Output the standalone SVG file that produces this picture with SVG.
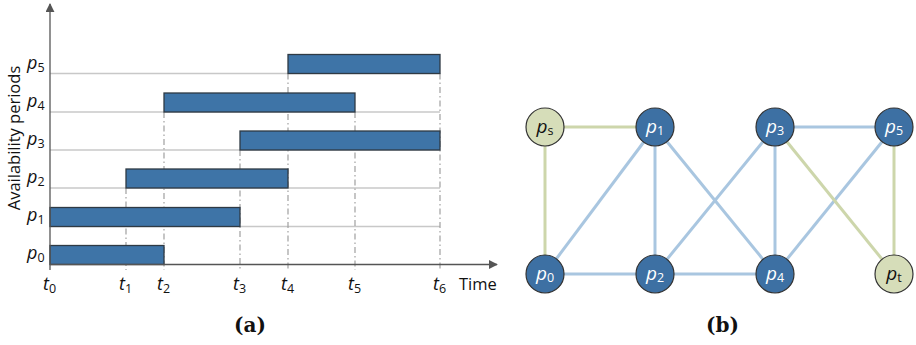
<svg xmlns="http://www.w3.org/2000/svg" width="916" height="345" viewBox="0 0 916 345">
  <style>
    .axis { stroke: #555; stroke-width: 1.3; fill: none; }
    .row { stroke: #c8c8c8; stroke-width: 1.3; }
    .tick { stroke: #a0a0a0; stroke-width: 1.2; stroke-dasharray: 6 3 1.5 3; }
    .bar { fill: #3e74a7; stroke: #2f3a44; stroke-width: 1.3; }
    .lbl { font-family: "Open Sans", "Noto Sans", sans-serif; font-style: italic; font-size: 18px; fill: #111; }
    .sub { font-style: normal; font-size: 12.5px; }
    .plain { font-family: "Open Sans", "Noto Sans", sans-serif; font-size: 16.5px; fill: #111; }
    .cap { font-family: "DejaVu Serif", "Liberation Serif", serif; font-weight: bold; font-size: 20px; fill: #111; }
    .eb { stroke: #a9c6e0; stroke-width: 3; }
    .eg { stroke: #cdd6ab; stroke-width: 3; }
    .nb { fill: #3d70a3; stroke: #333; stroke-width: 1.2; }
    .ng { fill: #d6ddb9; stroke: #333; stroke-width: 1.2; }
    .tw { font-family: "Open Sans", "Noto Sans", sans-serif; font-style: italic; font-size: 19px; fill: #fff; text-anchor: middle; }
    .tk { font-family: "Open Sans", "Noto Sans", sans-serif; font-style: italic; font-size: 19px; fill: #111; text-anchor: middle; }
  </style>
  <defs>
    <marker id="arrow" viewBox="0 0 10 10" refX="9" refY="5" markerWidth="9" markerHeight="9" markerUnits="userSpaceOnUse" orient="auto">
      <path d="M0,0 L10,5 L0,10 z" fill="#555"/>
    </marker>
  </defs>

  <!-- Timeline chart -->
  <g id="chart">
    <g id="rows">
      <line class="row" x1="50" y1="73.5" x2="440" y2="73.5"/>
      <line class="row" x1="50" y1="112" x2="440" y2="112"/>
      <line class="row" x1="50" y1="150" x2="440" y2="150"/>
      <line class="row" x1="50" y1="188" x2="440" y2="188"/>
      <line class="row" x1="50" y1="226.5" x2="440" y2="226.5"/>
    </g>
    <g id="ticks">
      <line class="tick" x1="126" y1="188" x2="126" y2="270"/>
      <line class="tick" x1="164" y1="112" x2="164" y2="270"/>
      <line class="tick" x1="240" y1="150" x2="240" y2="270"/>
      <line class="tick" x1="288" y1="73.5" x2="288" y2="270"/>
      <line class="tick" x1="355" y1="112" x2="355" y2="270"/>
      <line class="tick" x1="440" y1="73.5" x2="440" y2="270"/>
    </g>
    <g id="bars">
      <rect class="bar" x="288" y="54.5" width="152" height="19"/>
      <rect class="bar" x="164" y="93" width="191" height="19"/>
      <rect class="bar" x="240" y="131" width="200" height="19"/>
      <rect class="bar" x="126" y="169" width="162" height="19"/>
      <rect class="bar" x="50" y="207.5" width="190" height="19"/>
      <rect class="bar" x="50" y="245.5" width="114" height="19"/>
    </g>
    <g id="axes">
      <line class="axis" x1="50" y1="270" x2="50" y2="4" marker-end="url(#arrow)"/>
      <line class="axis" x1="50" y1="264.5" x2="497" y2="264.5" marker-end="url(#arrow)"/>
    </g>
    <g id="row-labels">
      <text class="lbl" x="27" y="69">p<tspan class="sub" dy="3">5</tspan></text>
      <text class="lbl" x="27" y="107">p<tspan class="sub" dy="3">4</tspan></text>
      <text class="lbl" x="27" y="145">p<tspan class="sub" dy="3">3</tspan></text>
      <text class="lbl" x="27" y="183">p<tspan class="sub" dy="3">2</tspan></text>
      <text class="lbl" x="27" y="221">p<tspan class="sub" dy="3">1</tspan></text>
      <text class="lbl" x="27" y="259">p<tspan class="sub" dy="3">0</tspan></text>
    </g>
    <g id="time-labels">
      <text class="lbl" x="43" y="290">t<tspan class="sub" dy="3">0</tspan></text>
      <text class="lbl" x="119" y="290">t<tspan class="sub" dy="3">1</tspan></text>
      <text class="lbl" x="157" y="290">t<tspan class="sub" dy="3">2</tspan></text>
      <text class="lbl" x="233" y="290">t<tspan class="sub" dy="3">3</tspan></text>
      <text class="lbl" x="281" y="290">t<tspan class="sub" dy="3">4</tspan></text>
      <text class="lbl" x="348" y="290">t<tspan class="sub" dy="3">5</tspan></text>
      <text class="lbl" x="433" y="290">t<tspan class="sub" dy="3">6</tspan></text>
      <text class="plain" x="459" y="290">Time</text>
    </g>
    <text class="plain" font-size="17px" transform="translate(20 138) rotate(-90)" text-anchor="middle">Availability periods</text>
    <text class="cap" x="234" y="332">(a)</text>
  </g>

  <!-- Graph -->
  <g id="edges">
    <line class="eg" x1="545" y1="127" x2="655" y2="127"/>
    <line class="eg" x1="545" y1="127" x2="545" y2="274"/>
    <line class="eb" x1="545" y1="274" x2="655" y2="127"/>
    <line class="eb" x1="545" y1="274" x2="655" y2="274"/>
    <line class="eb" x1="655" y1="127" x2="655" y2="274"/>
    <line class="eb" x1="655" y1="127" x2="775" y2="274"/>
    <line class="eb" x1="655" y1="274" x2="775" y2="127"/>
    <line class="eb" x1="655" y1="274" x2="775" y2="274"/>
    <line class="eb" x1="775" y1="127" x2="775" y2="274"/>
    <line class="eb" x1="775" y1="127" x2="894" y2="127"/>
    <line class="eb" x1="775" y1="274" x2="894" y2="127"/>
    <line class="eg" x1="775" y1="127" x2="894" y2="274"/>
    <line class="eg" x1="894" y1="127" x2="894" y2="274"/>
  </g>
  <g id="node-ps">
    <circle class="ng" cx="545" cy="127" r="19"/>
    <text class="tk" x="545" y="133">p<tspan class="sub" dy="2">s</tspan></text>
  </g>
  <g id="node-p1">
    <circle class="nb" cx="655" cy="127" r="19"/>
    <text class="tw" x="655" y="133">p<tspan class="sub" dy="2">1</tspan></text>
  </g>
  <g id="node-p3">
    <circle class="nb" cx="775" cy="127" r="19"/>
    <text class="tw" x="775" y="133">p<tspan class="sub" dy="2">3</tspan></text>
  </g>
  <g id="node-p5">
    <circle class="nb" cx="894" cy="127" r="19"/>
    <text class="tw" x="894" y="133">p<tspan class="sub" dy="2">5</tspan></text>
  </g>
  <g id="node-p0">
    <circle class="nb" cx="545" cy="274" r="19"/>
    <text class="tw" x="545" y="280">p<tspan class="sub" dy="2">0</tspan></text>
  </g>
  <g id="node-p2">
    <circle class="nb" cx="655" cy="274" r="19"/>
    <text class="tw" x="655" y="280">p<tspan class="sub" dy="2">2</tspan></text>
  </g>
  <g id="node-p4">
    <circle class="nb" cx="775" cy="274" r="19"/>
    <text class="tw" x="775" y="280">p<tspan class="sub" dy="2">4</tspan></text>
  </g>
  <g id="node-pt">
    <circle class="ng" cx="894" cy="274" r="19"/>
    <text class="tk" x="894" y="280">p<tspan class="sub" dy="2">t</tspan></text>
  </g>
  <text class="cap" x="706" y="332">(b)</text>
</svg>
